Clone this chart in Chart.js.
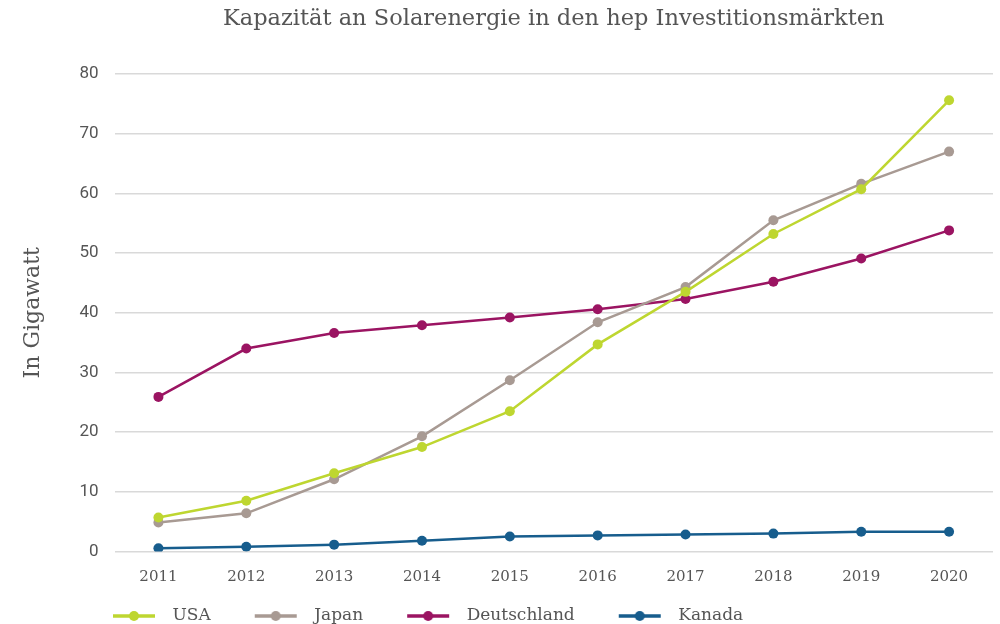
<!DOCTYPE html>
<html>
<head>
<meta charset="utf-8">
<script src="https://cdn.jsdelivr.net/npm/chart.js@4.4.1/dist/chart.umd.min.js"></script>
<style>
  html, body { margin: 0; padding: 0; background: #fff; }
  #wrap { width: 1000px; height: 624px; }
</style>
</head>
<body>
<div id="wrap"><canvas id="graph" width="1000" height="624"></canvas></div>
<script>
const years = ['2011', '2012', '2013', '2014', '2015', '2016', '2017', '2018', '2019', '2020'];
const usa = [5.7, 8.5, 13.1, 17.5, 23.5, 34.7, 43.5, 53.2, 60.7, 75.6];
const japan = [4.85, 6.4, 12.1, 19.3, 28.7, 38.4, 44.3, 55.5, 61.6, 67.0];
const deutschland = [25.9, 34.0, 36.6, 37.9, 39.2, 40.6, 42.3, 45.2, 49.1, 53.8];
const kanada = [0.55, 0.8, 1.15, 1.8, 2.5, 2.7, 2.85, 3.0, 3.3, 3.3];
const seriesNames = ['USA', 'Japan', 'Deutschland', 'Kanada'];
const seriesColors = ['#bed630', '#a89a93', '#9b1462', '#175d8d'];

const slab = '"DejaVu Serif", serif';
const textColor = '#555555';

// legend marker: short line with a dot, drawn on the right part of a wider box
function legendIcon(color) {
    const c = document.createElement('canvas');
    c.width = 91;
    c.height = 12;
    const ctx = c.getContext('2d');
    ctx.strokeStyle = color;
    ctx.lineWidth = 3.5;
    ctx.beginPath();
    ctx.moveTo(40, 6);
    ctx.lineTo(82, 6);
    ctx.stroke();
    ctx.fillStyle = color;
    ctx.beginPath();
    ctx.arc(61, 6, 5, 0, Math.PI * 2);
    ctx.fill();
    return c;
}
const icons = seriesColors.map(legendIcon);

// the legend in the original starts under the y axis, not at the canvas edge
const legendShift = {
    id: 'legendShift',
    afterLayout(chart) {
        chart.legend.left = 69;
    }
};

const allData = [usa, japan, deutschland, kanada];
const datasets = seriesNames.map((name, i) => ({
    label: name,
    data: allData[i],
    borderColor: seriesColors[i],
    backgroundColor: seriesColors[i],
    borderWidth: 2.5,
    pointRadius: 5,
    pointHoverRadius: 5,
    pointBorderWidth: 0,
    tension: 0
}));

const config = {
    type: 'line',
    data: {
        labels: years,
        datasets: datasets
    },
    options: {
        responsive: false,
        animation: false,
        layout: {
            padding: {left: 16, right: 7, top: 6, bottom: -10.5}
        },
        plugins: {
            title: {
                display: true,
                text: 'Kapazität an Solarenergie in den hep Investitionsmärkten',
                color: textColor,
                fullSize: false,
                font: {family: slab, size: 22.5, weight: 'normal'},
                padding: {top: 0, bottom: 41}
            },
            legend: {
                position: 'bottom',
                align: 'start',
                labels: {
                    usePointStyle: true,
                    pointStyleWidth: 91,
                    color: textColor,
                    font: {family: slab, size: 17},
                    padding: 4,
                    generateLabels(chart) {
                        const items = Chart.defaults.plugins.legend.labels.generateLabels(chart);
                        items.forEach((it, i) => { it.pointStyle = icons[i]; });
                        return items;
                    }
                }
            },
            tooltip: {enabled: false}
        },
        scales: {
            x: {
                offset: true,
                grid: {display: false, drawTicks: false},
                border: {display: false},
                ticks: {
                    color: textColor,
                    font: {family: slab, size: 15},
                    padding: 17,
                    maxRotation: 0
                }
            },
            y: {
                min: 0,
                max: 80,
                grid: {color: '#d9d9d9', lineWidth: 1.5, drawTicks: false},
                border: {display: false},
                ticks: {
                    stepSize: 10,
                    color: textColor,
                    font: {family: 'Roboto', size: 17},
                    padding: 16
                },
                title: {
                    display: true,
                    text: 'In Gigawatt',
                    color: textColor,
                    font: {family: slab, size: 22},
                    padding: {top: 4, bottom: 17}
                }
            }
        }
    },
    plugins: [legendShift]
};

const graph = document.querySelector('#graph');
new Chart(graph, config);
</script>
</body>
</html>
